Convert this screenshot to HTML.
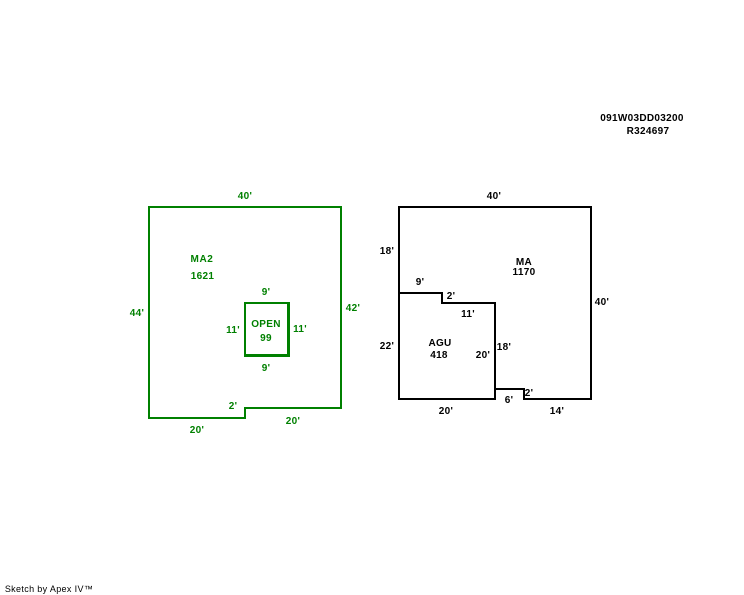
<!DOCTYPE html>
<html>
<head>
<meta charset="utf-8">
<style>
html,body{margin:0;padding:0;background:#fff;width:744px;height:595px;overflow:hidden}
svg{display:block}
text{font-family:"Liberation Sans",sans-serif;font-size:10px;font-weight:bold;text-anchor:middle;letter-spacing:.3px}
.g text{fill:#008000}
.k text{fill:#000}
</style>
</head>
<body>
<svg width="744" height="595" viewBox="0 0 744 595" xmlns="http://www.w3.org/2000/svg">
<g fill="none" stroke-width="2" stroke-linecap="square" shape-rendering="crispEdges">
<path stroke="#008000" d="M149 207H341V408H245V418H149Z"/>
<path stroke="#008000" d="M245 303H288V355H245Z"/>
<path stroke="#008000" d="M289 303V356H245"/>
<path stroke="#000" d="M399 207H591V399H524V389H495V399H399Z"/>
<path stroke="#000" d="M399 293H442V303H495V389"/>
</g>
<g class="g">
<text x="245" y="199">40'</text>
<text x="137" y="316">44'</text>
<text x="353" y="311">42'</text>
<text x="202" y="262" style="letter-spacing:.6px">MA2</text>
<text x="202.500" y="279">1621</text>
<text x="266" y="295">9'</text>
<text x="233" y="333">11'</text>
<text x="300" y="332">11'</text>
<text x="266" y="327">OPEN</text>
<text x="266" y="341">99</text>
<text x="266" y="371">9'</text>
<text x="233" y="409">2'</text>
<text x="197" y="433">20'</text>
<text x="293" y="424">20'</text>
</g>
<g class="k">
<text x="494" y="199">40'</text>
<text x="387" y="254">18'</text>
<text x="387" y="349">22'</text>
<text x="602" y="305">40'</text>
<text x="524" y="265">MA</text>
<text x="524" y="275">1170</text>
<text x="420" y="285">9'</text>
<text x="451" y="299">2'</text>
<text x="468" y="317">11'</text>
<text x="440" y="346">AGU</text>
<text x="439" y="358">418</text>
<text x="483" y="358">20'</text>
<text x="504" y="350">18'</text>
<text x="446" y="414">20'</text>
<text x="509" y="403">6'</text>
<text x="529" y="396">2'</text>
<text x="557" y="414">14'</text>
<text x="642" y="121">091W03DD03200</text>
<text x="648" y="134">R324697</text>
<text x="49" y="592" style="font-size:9px;font-weight:normal;letter-spacing:.35px">Sketch by Apex IV™</text>
</g>
</svg>
</body>
</html>
